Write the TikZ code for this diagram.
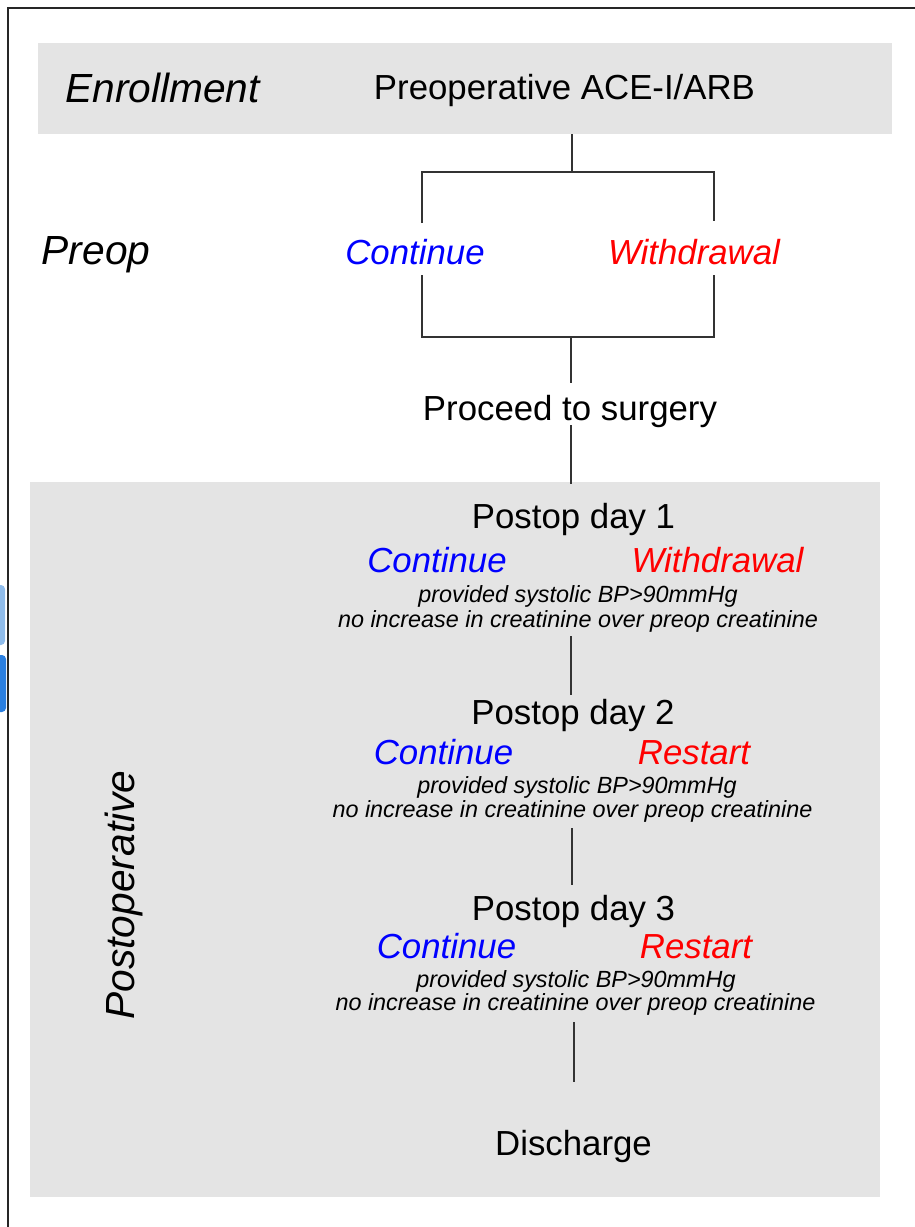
\documentclass[tikz,border=0pt]{standalone}
\usepackage{fontspec}
\setmainfont{Liberation Sans}
\definecolor{panelgray}{HTML}{E4E4E4}
\definecolor{linegray}{HTML}{333333}
\definecolor{logoblue}{HTML}{2A7FE0}
\definecolor{logolight}{HTML}{8FBCEB}
\begin{document}
\begin{tikzpicture}[x=1pt,y=-1pt,
  panel/.style={fill=panelgray, draw=none, inner sep=0pt},
  conn/.style={draw=linegray, line width=1.2pt},
  frame/.style={draw=black!85, line width=1.6pt},
  bigtext/.style={font=\fontsize{34.8}{40}\selectfont, inner sep=0pt, anchor=base},
  phase/.style={font=\fontsize{40.7}{46}\selectfont\itshape, inner sep=0pt, anchor=base},
  optc/.style={font=\fontsize{34.8}{40}\selectfont\itshape, text=blue, inner sep=0pt, anchor=base},
  optw/.style={font=\fontsize{34.8}{40}\selectfont\itshape, text=red, inner sep=0pt, anchor=base},
  cond/.style={font=\fontsize{23.4}{28}\selectfont\itshape, inner sep=0pt, anchor=base}]
\useasboundingbox (0,0) rectangle (915,1227);
% cropped logo fragment at the left edge
\begin{scope}
  \clip (0,560) rectangle (7,740);
  \fill[logolight, rounded corners=4pt] (-10,585) rectangle (5,645);
  \fill[logoblue, rounded corners=4pt] (-10,655) rectangle (6,712);
\end{scope}
% frame (top and left only)
\coordinate (fTR) at (915,8);
\coordinate (fTL) at (8,8);
\coordinate (fBL) at (8,1227);
\draw[frame] (fTR) -- (fTL) -- (fBL);
% panels
\node[panel, minimum width=854pt, minimum height=91pt] (enr) at (465,88.5) {};
\node[panel, minimum width=850pt, minimum height=715pt] (post) at (455,839.5) {};
% phase labels
\node[phase] (lEnr) at (162.5,102) {Enrollment};
\node[phase] (lPre) at (96,264) {Preop};
\node[phase, rotate=90, anchor=base] (lPost) at (134.5,895) {Postoperative};
% top
\node[bigtext] (ace) at (564.5,99) {Preoperative ACE-I/ARB};
\node[optc] (c0) at (415,264) {Continue};
\node[optw] (w0) at (694,264) {Withdrawal};
\node[bigtext] (proc) at (570,420) {Proceed to surgery};
% day 1
\node[bigtext] (d1) at (573.5,528) {Postop day 1};
\node[optc] (c1) at (437,572) {Continue};
\node[optw] (w1) at (717.5,572) {Withdrawal};
\node[cond] (p1) at (578,602) {provided systolic BP>90mmHg};
\node[cond] (n1) at (578,627) {no increase in creatinine over preop creatinine};
% day 2
\node[bigtext] (d2) at (573,724) {Postop day 2};
\node[optc] (c2) at (443.5,764) {Continue};
\node[optw] (r2) at (694,764) {Restart};
\node[cond] (p2) at (577,793) {provided systolic BP>90mmHg};
\node[cond] (n2) at (572.5,817) {no increase in creatinine over preop creatinine};
% day 3
\node[bigtext] (d3) at (573.5,920) {Postop day 3};
\node[optc] (c3) at (446.5,958) {Continue};
\node[optw] (r3) at (696,958) {Restart};
\node[cond] (p3) at (576,987) {provided systolic BP>90mmHg};
\node[cond] (n3) at (575.5,1010) {no increase in creatinine over preop creatinine};
% discharge
\node[bigtext] (dis) at (573.5,1155) {Discharge};
% connector coordinates
\coordinate (aceB) at (572,134);
\coordinate (split) at (572,172);
\coordinate (cL1) at (422,223);
\coordinate (cR1) at (714,221);
\coordinate (cL2) at (422,275);
\coordinate (cR2) at (714,275);
\coordinate (merge) at (571,337);
\coordinate (procT) at (571,383);
\coordinate (procB) at (571,425);
\coordinate (postT) at (571,484);
\coordinate (d1B) at (571,636);
\coordinate (d2T) at (571,695);
\coordinate (d2B) at (572,828);
\coordinate (d3T) at (572,885);
\coordinate (d3B) at (574,1022);
\coordinate (disT) at (574,1082);
% connectors
\draw[conn] (aceB) -- (split);
\draw[conn] (cL1) |- (split) -| (cR1);
\draw[conn] (cL2) |- (merge) -| (cR2);
\draw[conn] (merge) -- (procT);
\draw[conn] (procB) -- (postT);
\draw[conn] (d1B) -- (d2T);
\draw[conn] (d2B) -- (d3T);
\draw[conn] (d3B) -- (disT);
\end{tikzpicture}
\end{document}
